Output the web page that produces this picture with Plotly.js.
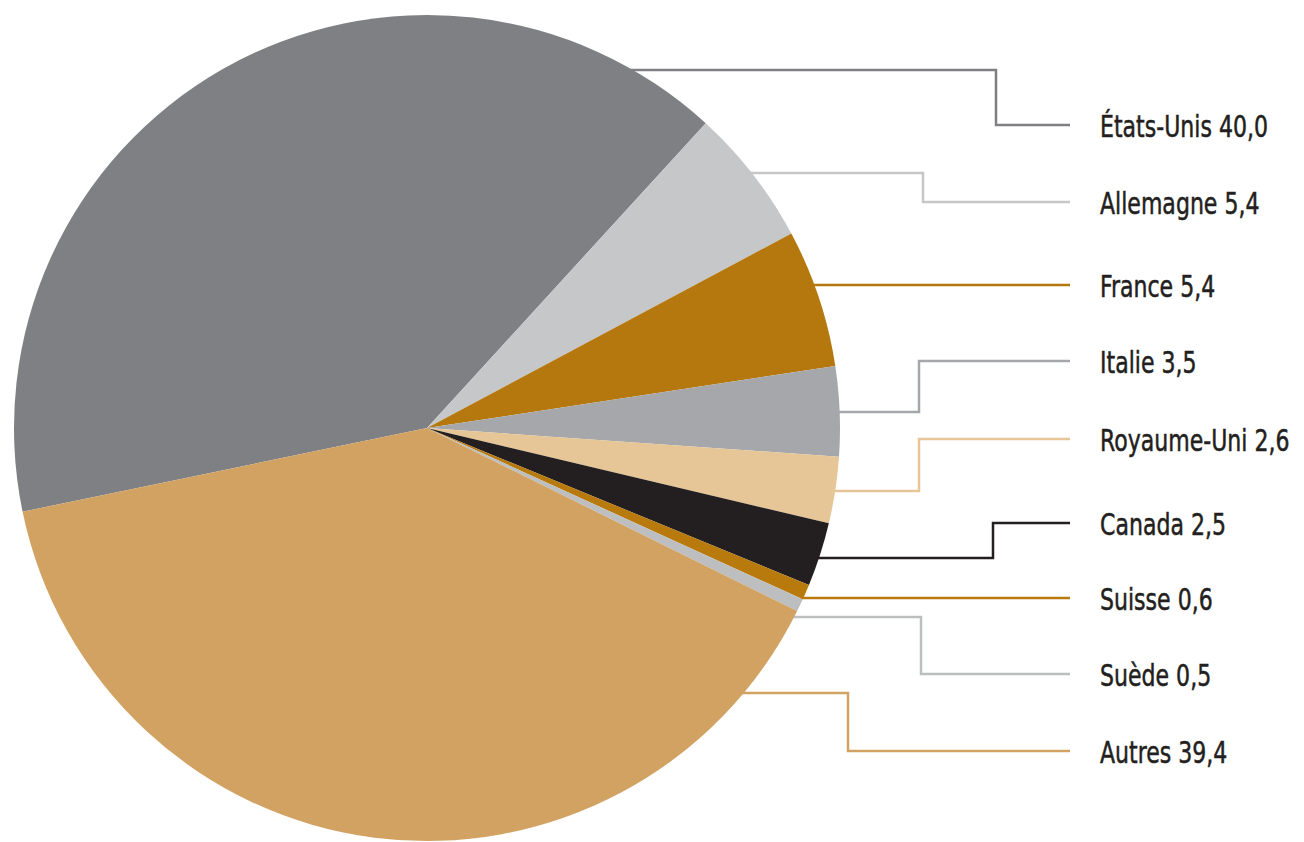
<!DOCTYPE html>
<html>
<head>
<meta charset="utf-8">
<script src="https://cdn.plot.ly/plotly-3.0.1.min.js"></script>
<style>
  html, body { margin: 0; padding: 0; background: #ffffff; overflow: hidden; }
  #chart { width: 1304px; height: 842px; }
  #chart text.annotation-text { stroke: #231f20; stroke-width: 0.4px; }
</style>
</head>
<body>
<div id="chart"></div>
<script>
// ---- Data ----
const labels = ['États-Unis', 'Allemagne', 'France', 'Italie', 'Royaume-Uni', 'Canada', 'Suisse', 'Suède', 'Autres'];
const values = [40.0, 5.4, 5.4, 3.5, 2.6, 2.5, 0.6, 0.5, 39.4];
const colors = ['#7f8084', '#c6c7c9', '#b5780f', '#a5a7aa', '#e6c596', '#231f20', '#b87a0d', '#bcbec0', '#d2a263'];

// ---- Leader-line layout (pixel positions of the callouts) ----
const leaderStartY = [70, 173, 285, 412, 491, 558, 598, 617, 693];
const leaderElbowX = [996, 923, null, 919, 919, 993, null, 921, 848];
const labelY       = [125, 202, 285, 361, 439, 523, 598, 674, 751];

const W = 1304, H = 842;
const pieLeft = 14, pieRight = 840, pieTop = 15, pieBottom = 841;
const cx = (pieLeft + pieRight) / 2, cy = (pieTop + pieBottom) / 2, R = (pieRight - pieLeft) / 2;
const lineEndX = 1070, labelX = 1098;
const firstLabelWidth = 168;   // target width of the first callout text
const fontSize = 24;           // layout font size
const visualFontSize = 31;     // apparent height of the narrow original typeface

const px = x => x / W;
const py = y => 1 - y / H;

const fontFamily = '"DejaVu Sans Condensed", "Liberation Sans Narrow", "DejaVu Sans", sans-serif';

const shapes = [];
const annotations = [];
labels.forEach((lab, i) => {
  const y0 = leaderStartY[i];
  const x0 = cx + Math.sqrt(Math.max(0, R * R - (y0 - cy) * (y0 - cy))) - 3;
  let path = `M ${px(x0)} ${py(y0)}`;
  if (leaderElbowX[i] !== null) {
    path += ` L ${px(leaderElbowX[i])} ${py(y0)} L ${px(leaderElbowX[i])} ${py(labelY[i])}`;
  }
  path += ` L ${px(lineEndX)} ${py(labelY[i])}`;
  shapes.push({
    type: 'path', xref: 'paper', yref: 'paper', path: path,
    line: { color: colors[i], width: 2.5 }, layer: 'below'
  });
  annotations.push({
    xref: 'paper', yref: 'paper', x: px(labelX), y: py(labelY[i] + 2),
    xanchor: 'left', yanchor: 'middle', align: 'left', showarrow: false,
    text: lab + ' ' + values[i].toFixed(1).replace('.', ','),
    font: { family: fontFamily, size: fontSize, color: '#231f20' }
  });
});

const trace = {
  type: 'pie',
  labels: labels,
  values: values,
  sort: false,
  direction: 'clockwise',
  rotation: -101.7,
  marker: { colors: colors, line: { width: 0 } },
  textinfo: 'none',
  hoverinfo: 'label+value',
  showlegend: false,
  domain: { x: [px(pieLeft), px(pieRight)], y: [py(pieBottom), py(pieTop)] }
};

const layout = {
  width: W, height: H,
  margin: { l: 0, r: 0, t: 0, b: 0, pad: 0 },
  paper_bgcolor: '#ffffff',
  plot_bgcolor: '#ffffff',
  showlegend: false,
  shapes: shapes,
  annotations: annotations
};

Plotly.newPlot('chart', [trace], layout, { displayModeBar: false, staticPlot: true }).then(() => {
  // stretch the callout text vertically and condense it horizontally to mimic
  // the tall, narrow typeface of the original
  const texts = Array.from(document.querySelectorAll('#chart text.annotation-text'));
  if (!texts.length) return;
  const w0 = texts[0].getComputedTextLength();
  if (!(w0 > 0)) return;
  const sx = Math.min(1.2, firstLabelWidth / w0);
  const sy = visualFontSize / fontSize;
  texts.forEach(t => {
    t.style.transformBox = 'fill-box';
    t.style.transformOrigin = '0% 55%';
    t.style.transform = `scale(${sx.toFixed(4)}, ${sy.toFixed(4)})`;
  });
});
</script>
</body>
</html>
